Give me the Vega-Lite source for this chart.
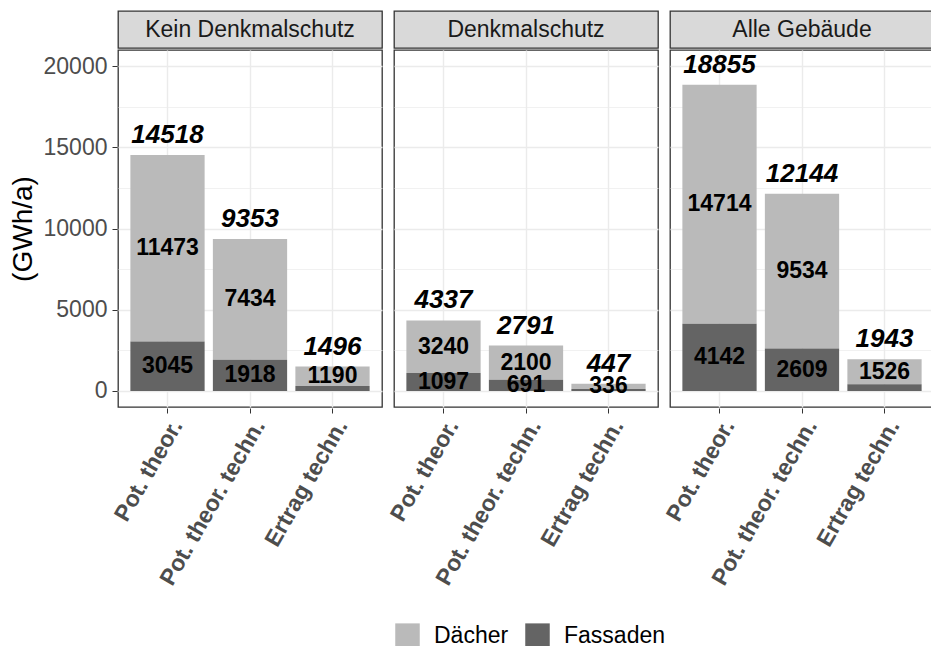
{
  "$schema": "https://vega.github.io/schema/vega-lite/v6.json",
  "autosize": {"type": "pad"},
  "padding": {"left": 9, "top": 10, "right": 0, "bottom": 0},
  "background": "white",
  "spacing": 0,
  "datasets": {
    "werte": [
      {"Gruppe": "Kein Denkmalschutz", "Kategorie": "Pot. theor.", "Typ": "Dächer", "Wert": 11473, "Gesamt": 14518},
      {"Gruppe": "Kein Denkmalschutz", "Kategorie": "Pot. theor.", "Typ": "Fassaden", "Wert": 3045, "Gesamt": 14518},
      {"Gruppe": "Kein Denkmalschutz", "Kategorie": "Pot. theor. techn.", "Typ": "Dächer", "Wert": 7434, "Gesamt": 9353},
      {"Gruppe": "Kein Denkmalschutz", "Kategorie": "Pot. theor. techn.", "Typ": "Fassaden", "Wert": 1918, "Gesamt": 9353},
      {"Gruppe": "Kein Denkmalschutz", "Kategorie": "Ertrag techn.", "Typ": "Dächer", "Wert": 1190, "Gesamt": 1496},
      {"Gruppe": "Kein Denkmalschutz", "Kategorie": "Ertrag techn.", "Typ": "Fassaden", "Wert": 306, "Gesamt": 1496},
      {"Gruppe": "Denkmalschutz", "Kategorie": "Pot. theor.", "Typ": "Dächer", "Wert": 3240, "Gesamt": 4337},
      {"Gruppe": "Denkmalschutz", "Kategorie": "Pot. theor.", "Typ": "Fassaden", "Wert": 1097, "Gesamt": 4337},
      {"Gruppe": "Denkmalschutz", "Kategorie": "Pot. theor. techn.", "Typ": "Dächer", "Wert": 2100, "Gesamt": 2791},
      {"Gruppe": "Denkmalschutz", "Kategorie": "Pot. theor. techn.", "Typ": "Fassaden", "Wert": 691, "Gesamt": 2791},
      {"Gruppe": "Denkmalschutz", "Kategorie": "Ertrag techn.", "Typ": "Dächer", "Wert": 336, "Gesamt": 447},
      {"Gruppe": "Denkmalschutz", "Kategorie": "Ertrag techn.", "Typ": "Fassaden", "Wert": 111, "Gesamt": 447},
      {"Gruppe": "Alle Gebäude", "Kategorie": "Pot. theor.", "Typ": "Dächer", "Wert": 14714, "Gesamt": 18855},
      {"Gruppe": "Alle Gebäude", "Kategorie": "Pot. theor.", "Typ": "Fassaden", "Wert": 4142, "Gesamt": 18855},
      {"Gruppe": "Alle Gebäude", "Kategorie": "Pot. theor. techn.", "Typ": "Dächer", "Wert": 9534, "Gesamt": 12144},
      {"Gruppe": "Alle Gebäude", "Kategorie": "Pot. theor. techn.", "Typ": "Fassaden", "Wert": 2609, "Gesamt": 12144},
      {"Gruppe": "Alle Gebäude", "Kategorie": "Ertrag techn.", "Typ": "Dächer", "Wert": 1526, "Gesamt": 1943},
      {"Gruppe": "Alle Gebäude", "Kategorie": "Ertrag techn.", "Typ": "Fassaden", "Wert": 417, "Gesamt": 1943}
    ],
    "felder": [
      {"Gruppe": "Kein Denkmalschutz"},
      {"Gruppe": "Denkmalschutz"},
      {"Gruppe": "Alle Gebäude"}
    ]
  },
  "config": {
    "font": "Liberation Sans",
    "view": {"stroke": "#333333", "strokeWidth": 1.3},
    "axis": {
      "domain": false,
      "gridColor": "#ebebeb",
      "tickColor": "#333333",
      "tickSize": 5,
      "labelColor": "#4d4d4d",
      "labelFont": "Liberation Sans",
      "titleFont": "Liberation Sans"
    },
    "legend": {
      "labelFont": "Liberation Sans"
    }
  },
  "vconcat": [
    {
      "data": {"name": "felder"},
      "facet": {
        "column": {
          "field": "Gruppe",
          "sort": ["Kein Denkmalschutz", "Denkmalschutz", "Alle Gebäude"],
          "header": null
        }
      },
      "spacing": 10,
      "spec": {
        "width": 264,
        "height": 37,
        "view": {"fill": "#d9d9d9", "stroke": "#333333", "strokeWidth": 1.3},
        "mark": {"type": "text", "fontSize": 23, "color": "#1a1a1a", "baseline": "middle"},
        "encoding": {
          "y": {
            "datum": 0,
            "type": "quantitative",
            "scale": {"domain": [-1, 1], "nice": false},
            "axis": {
              "title": null,
              "labels": false,
              "ticks": false,
              "grid": false,
              "values": [],
              "minExtent": 108,
              "maxExtent": 108
            }
          },
          "text": {"field": "Gruppe", "type": "nominal"}
        }
      }
    },
    {
      "data": {"name": "werte"},
      "facet": {
        "column": {
          "field": "Gruppe",
          "sort": ["Kein Denkmalschutz", "Denkmalschutz", "Alle Gebäude"],
          "header": null
        }
      },
      "spacing": 10,
      "spec": {
        "width": 264,
        "height": 357,
        "encoding": {
          "x": {
            "field": "Kategorie",
            "type": "nominal",
            "sort": ["Pot. theor.", "Pot. theor. techn.", "Ertrag techn."],
            "title": null,
            "scale": {"paddingInner": 0.1, "paddingOuter": 0.15},
            "axis": {
              "labelAngle": -60,
              "labelAlign": "right",
              "labelBaseline": "top",
              "labelFontSize": 23,
              "labelFontWeight": "bold",
              "labelPadding": 3,
              "labelLimit": 400,
              "grid": true,
              "gridWidth": 1.4
            }
          }
        },
        "layer": [
          {
            "mark": {"type": "bar"},
            "encoding": {
              "y": {
                "field": "Wert",
                "type": "quantitative",
                "stack": "zero",
                "title": "(GWh/a)",
                "scale": {"domain": [-990, 20990], "nice": false, "zero": false},
                "axis": {
                  "values": [0, 2500, 5000, 7500, 10000, 12500, 15000, 17500, 20000],
                  "format": "d",
                  "labelExpr": "datum.value % 5000 === 0 ? datum.label : ''",
                  "labelFontSize": 23,
                  "labelPadding": 5,
                  "tickColor": {"condition": {"test": "datum.value % 5000 === 0", "value": "#333333"}, "value": "transparent"},
                  "gridWidth": {"condition": {"test": "datum.value % 5000 === 0", "value": 1.4}, "value": 0.7},
                  "titleFontSize": 28,
                  "titleFontWeight": "normal",
                  "titleColor": "#000000",
                  "titlePadding": 4,
                  "minExtent": 76,
                  "maxExtent": 76
                }
              },
              "color": {
                "field": "Typ",
                "type": "nominal",
                "scale": {"domain": ["Dächer", "Fassaden"], "range": ["#bababa", "#646464"]},
                "legend": {
                  "title": null,
                  "orient": "none",
                  "legendX": 277,
                  "legendY": 612,
                  "direction": "horizontal",
                  "symbolType": "square",
                  "symbolSize": 600,
                  "symbolStrokeWidth": 0,
                  "labelFontSize": 23,
                  "labelColor": "#000000",
                  "labelOffset": 14,
                  "columnPadding": 16
                }
              },
              "order": {"field": "Typ", "sort": "descending"}
            }
          },
          {
            "transform": [
              {"stack": "Wert", "groupby": ["Gruppe", "Kategorie"], "sort": [{"field": "Typ", "order": "descending"}], "as": ["unten", "oben"]},
              {"calculate": "(datum.unten + datum.oben) / 2", "as": "Mitte"},
              {"filter": "datum.Typ === 'Dächer' || datum.Kategorie !== 'Ertrag techn.'"}
            ],
            "mark": {"type": "text", "fontSize": 23, "fontWeight": "bold", "color": "#000000", "baseline": "middle"},
            "encoding": {
              "y": {"field": "Mitte", "type": "quantitative", "title": "(GWh/a)"},
              "text": {"field": "Wert", "type": "quantitative", "format": "d"}
            }
          },
          {
            "transform": [{"filter": "datum.Typ === 'Dächer'"}],
            "mark": {"type": "text", "fontSize": 26, "fontWeight": "bold", "fontStyle": "italic", "color": "#000000", "baseline": "alphabetic", "dy": -12},
            "encoding": {
              "y": {"field": "Gesamt", "type": "quantitative", "title": "(GWh/a)"},
              "text": {"field": "Gesamt", "type": "quantitative", "format": "d"}
            }
          }
        ]
      }
    }
  ]
}
